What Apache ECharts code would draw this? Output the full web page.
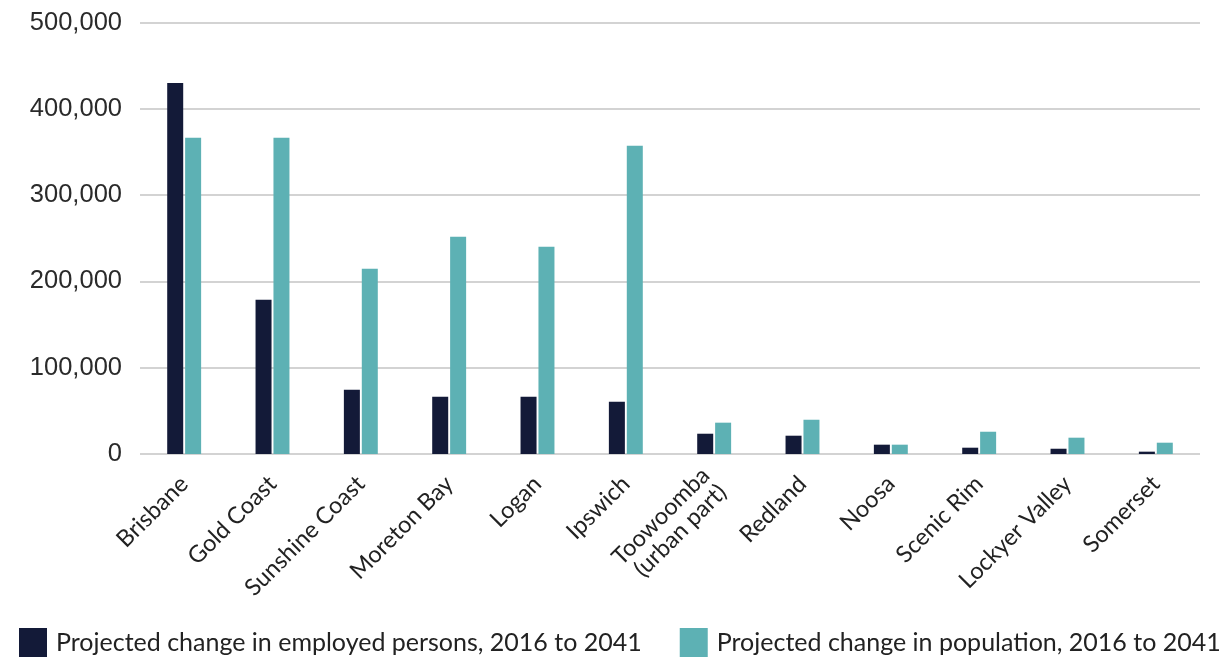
<!DOCTYPE html>
<html>
<head>
<meta charset="utf-8">
<script src="https://cdn.jsdelivr.net/npm/echarts@6/dist/echarts.min.js"></script>
<style>
  html, body { margin: 0; padding: 0; background: #fff; }
  #chart { width: 1228px; height: 657px; }
</style>
</head>
<body>
<div id="chart"></div>
<script>
"use strict";

var regions = ['Brisbane', 'Gold Coast', 'Sunshine Coast', 'Moreton Bay', 'Logan', 'Ipswich',
	'Toowoomba\n(urban part)', 'Redland', 'Noosa', 'Scenic Rim', 'Lockyer Valley', 'Somerset'];
var employedChange = [430000, 178800, 74500, 66400, 66400, 60600, 23500, 21200, 10800, 7300, 6100, 2700];
var populationChange = [366500, 366500, 214700, 251800, 240200, 357200, 36300, 39700, 10800, 25800, 18900, 13100];
var seriesNames = ['Projected change in employed persons, 2016 to 2041', 'Projected change in population, 2016 to 2041'];

var chart = echarts.init(document.getElementById('chart'));

chart.setOption({
	animation: false,
	grid: {
		left: 140,
		right: 28,
		top: 22.5,
		bottom: 203
	},
	legend: {
		left: 19,
		top: 628,
		padding: 0,
		itemWidth: 28,
		itemHeight: 29,
		itemGap: 38,
		icon: 'rect',
		textStyle: {
			fontFamily: 'Lato',
			fontSize: 25,
			color: '#222',
			padding: [0, 0, 0, 4]
		},
		data: seriesNames
	},
	xAxis: {
		type: 'category',
		data: regions,
		axisLine: { show: false },
		axisTick: { show: false },
		axisLabel: {
			rotate: 45,
			interval: 0,
			margin: 26,
			fontFamily: 'Lato',
			fontSize: 23.5,
			color: '#222',
			align: 'right',
			lineHeight: 24
		}
	},
	yAxis: {
		type: 'value',
		min: 0,
		max: 500000,
		interval: 100000,
		axisLine: { show: false },
		axisTick: { show: false },
		splitLine: { lineStyle: { color: '#d3d3d3', width: 2 } },
		axisLabel: {
			margin: 18,
			fontFamily: 'Liberation Sans',
			fontSize: 25.5,
			color: '#2a2a2a',
			formatter: function(v) { return v.toLocaleString('en-US'); }
		}
	},
	series: [{
		name: seriesNames[0],
		type: 'bar',
		data: employedChange,
		barWidth: 16,
		barGap: '12%',
		itemStyle: { color: '#131a38' }
	}, {
		name: seriesNames[1],
		type: 'bar',
		data: populationChange,
		barWidth: 16,
		itemStyle: { color: '#5db1b4' }
	}]
});
</script>
</body>
</html>
